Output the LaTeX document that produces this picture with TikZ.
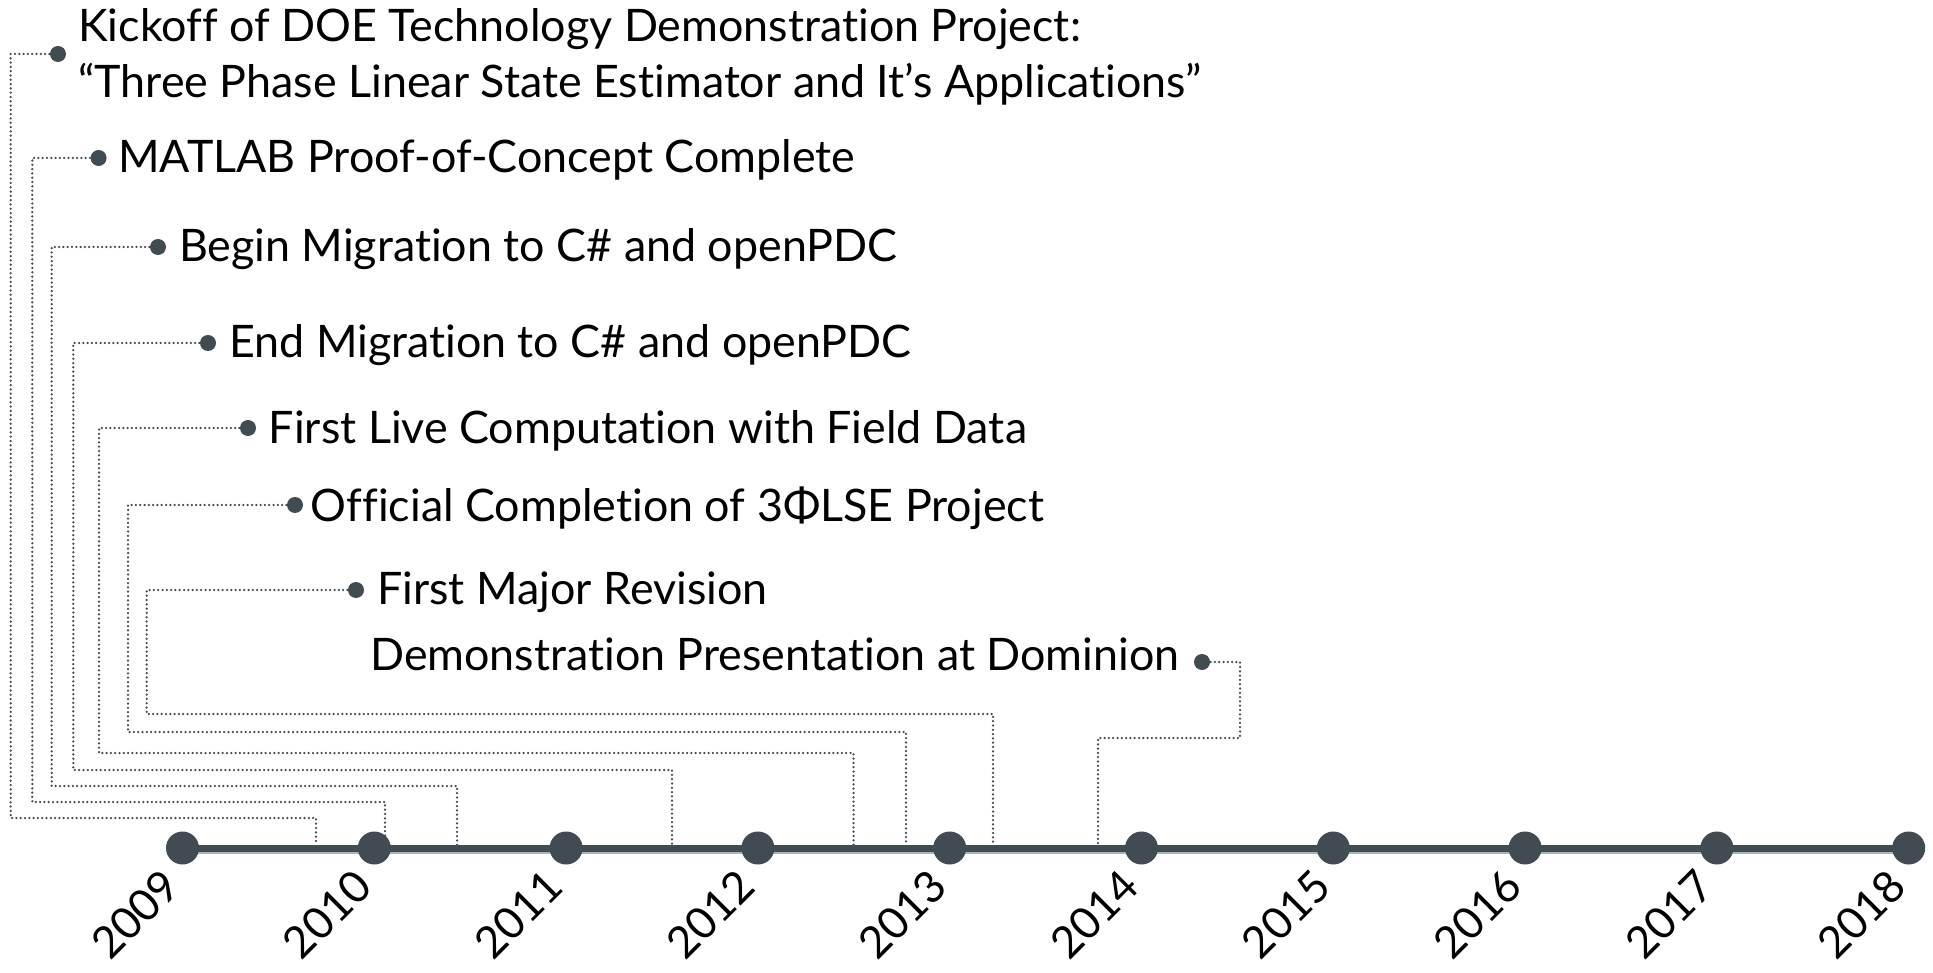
\documentclass[tikz,border=0pt]{standalone}
\usepackage{fontspec}
\setmainfont{Lato}[Ligatures={NoCommon}]
\usetikzlibrary{calc}
\pgfdeclarelayer{background}
\pgfsetlayers{background,main}
\definecolor{dark}{RGB}{64,75,82}
\definecolor{lightline}{RGB}{172,180,184}
\tikzset{
  evdot/.style={circle,fill=dark,minimum size=16,inner sep=0},
  yrdot/.style={circle,fill=dark,minimum size=33,inner sep=0},
  evtext/.style={anchor=base west,inner sep=0,font=\fontsize{44.8}{56}\selectfont,text=black},
  yrtext/.style={anchor=base east,inner sep=0,rotate=45,font=\fontsize{44}{50}\selectfont,text=black},
  conn/.style={draw=dark,line width=2.5,line cap=round,dash pattern=on 0pt off 4.3pt},
}
\begin{document}
\begin{tikzpicture}[x=1pt,y=-1pt]
\useasboundingbox (0,0) rectangle (1933,973);
% years
\foreach \yr [count=\i from 0] in {2009,2010,2011,2012,2013,2014,2015,2016,2017,2018} {
  \node[yrdot] (y\yr) at ({182.5+191.8*\i},848) {};
  \node[yrtext] (l\yr) at ($(y\yr.center)+(0,41)$) {\yr};
}
% event dots
\node[evdot] (e1) at (58,54) {};
\node[evdot] (e2) at (98.6,158) {};
\node[evdot] (e3) at (158,247) {};
\node[evdot] (e4) at (208,343) {};
\node[evdot] (e5) at (248,428) {};
\node[evdot] (e6) at (295,505) {};
\node[evdot] (e7) at (356,590) {};
\node[evdot] (e8) at (1202,662) {};
% texts
\node[evtext] (t1a) at (78,42) {Kickoff of DOE Technology Demonstration Project:};
\node[evtext] (t1b) at (78,98) {“Three Phase Linear State Estimator and It’s Applications”};
\node[evtext] (t2) at (118,173) {MATLAB Proof-of-Concept Complete};
\node[evtext] (t3) at (178.8,262) {Begin Migration to C\# and openPDC};
\node[evtext] (t4) at (229,358) {End Migration to C\# and openPDC};
\node[evtext] (t5) at (268.7,443) {First Live Computation with Field Data};
\node[evtext] (t6) at (310.7,521) {Official Completion of 3ΦLSE Project};
\node[evtext] (t7) at (377,604) {First Major Revision};
\node[evtext] (t8) at (370,670) {Demonstration Presentation at Dominion};
% drop points on the timeline
\coordinate (d1) at (316,845);
\coordinate (d2) at (385,845);
\coordinate (d3) at (457,845);
\coordinate (d4) at (672,845);
\coordinate (d5) at (853.5,845);
\coordinate (d6) at (906,845);
\coordinate (d7) at (993,845);
\coordinate (d8) at (1098,845);
\begin{pgfonlayer}{background}
  \draw[conn] (e1.center) -| (10.7,818) -| (d1);
  \draw[conn] (e2.center) -| (32.3,802) -| (d2);
  \draw[conn] (e3.center) -| (51.7,786) -| (d3);
  \draw[conn] (e4.center) -| (73.3,770) -| (d4);
  \draw[conn] (e5.center) -| (99,753) -| (d5);
  \draw[conn] (e6.center) -| (128,732) -| (d6);
  \draw[conn] (e7.center) -| (146.7,714) -| (d7);
  \draw[conn] (e8.center) -| (1240,738) -| (d8);
  \draw[lightline,line width=9] ($(y2009.center)+(0,1.5)$) -- ($(y2018.center)+(0,1.5)$);
  \draw[dark,line width=7] (y2009.center) -- (y2018.center);
\end{pgfonlayer}
\end{tikzpicture}
\end{document}
